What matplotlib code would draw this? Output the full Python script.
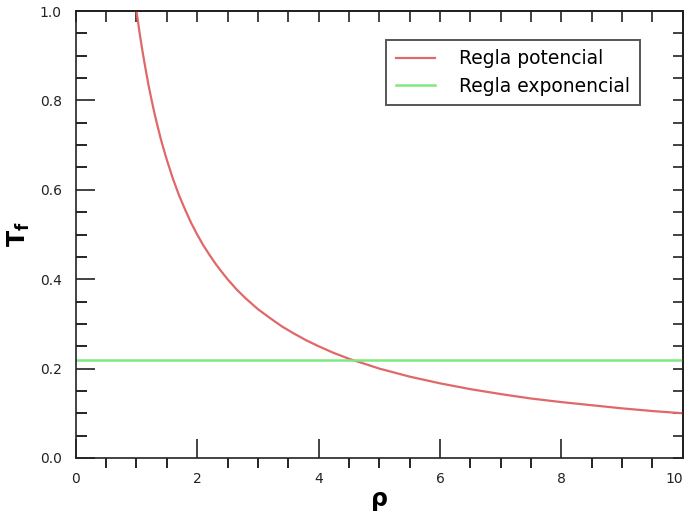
import matplotlib
matplotlib.use('Agg')
import matplotlib.pyplot as plt
from matplotlib.ticker import MultipleLocator

# values
rho = [1.0, 1.05, 1.1, 1.15, 1.2, 1.25, 1.3, 1.35, 1.4, 1.45, 1.5, 1.6, 1.7, 1.8, 1.9,
       2.0, 2.1, 2.2, 2.3, 2.4, 2.5, 2.65, 2.8, 3.0, 3.2, 3.4, 3.6, 3.8, 4.0, 4.25,
       4.5, 4.75, 5.0, 5.5, 6.0, 6.5, 7.0, 7.5, 8.0, 8.5, 9.0, 9.5, 10.0]
t_pot = [1.0, 0.952, 0.909, 0.870, 0.833, 0.800, 0.769, 0.741, 0.714, 0.690, 0.667,
         0.625, 0.588, 0.556, 0.526, 0.500, 0.476, 0.455, 0.435, 0.417, 0.400, 0.377,
         0.357, 0.333, 0.313, 0.294, 0.278, 0.263, 0.250, 0.235, 0.222, 0.211, 0.200,
         0.182, 0.167, 0.154, 0.143, 0.133, 0.125, 0.118, 0.111, 0.105, 0.100]
rho_exp = [0, 10]
t_exp = [0.22, 0.22]

fig = plt.figure(figsize=(6.89, 5.27), dpi=100)
ax = fig.add_axes([0.110, 0.131, 0.881, 0.848])

ax.plot(rho, t_pot, color='#e06868', lw=1.6, label='Regla potencial')
ax.plot(rho_exp, t_exp, color='#80e880', lw=1.8, label='Regla exponencial')

ax.set_xlim(0, 10)
ax.set_ylim(0, 1)
ax.xaxis.set_major_locator(MultipleLocator(2))
ax.xaxis.set_minor_locator(MultipleLocator(0.5))
ax.yaxis.set_major_locator(MultipleLocator(0.2))
ax.yaxis.set_minor_locator(MultipleLocator(0.05))
ax.xaxis.set_major_formatter(plt.FuncFormatter(lambda v, p: '%d' % v))
ax.yaxis.set_major_formatter(plt.FuncFormatter(lambda v, p: '%.1f' % v))

ax.tick_params(axis='x', which='major', direction='in', length=14, width=1.2,
               top=False, labelsize=10, pad=10, colors='#222222')
ax.tick_params(axis='x', which='minor', direction='out', length=7, width=1.2, top=False)
ax.tick_params(axis='y', which='major', direction='in', length=14, width=1.2,
               right=False, labelsize=10, pad=10, colors='#222222')
ax.tick_params(axis='y', which='minor', direction='in', length=8, width=1.2, right=False)
for lbl in ax.get_xticklabels():
    if lbl.get_text() == '10':
        lbl.set_ha('right')

# top and right axes: short inward ticks only
top = ax.secondary_xaxis('top')
top.xaxis.set_major_locator(MultipleLocator(0.5))
top.tick_params(direction='in', length=8, width=1.2, labeltop=False, colors='#222222')
top.spines['top'].set_linewidth(1.2)
right = ax.secondary_yaxis('right')
right.yaxis.set_major_locator(MultipleLocator(0.05))
right.tick_params(direction='in', length=7, width=1.2, labelright=False, colors='#222222')
right.spines['right'].set_linewidth(1.2)

for s in ax.spines.values():
    s.set_linewidth(1.2)
    s.set_color('#222222')

ax.set_xlabel(r'$\mathbf{\rho}$', fontsize=17, labelpad=2)
ax.set_ylabel(r'$\mathbf{T_f}$', fontsize=17, labelpad=6)

leg = ax.legend(loc='upper right', bbox_to_anchor=(0.929, 0.935), fontsize=13.5,
                fancybox=False, framealpha=1, edgecolor='#555555',
                handlelength=2.1, handletextpad=1.3, borderpad=0.5, labelspacing=0.45,
                borderaxespad=0)
leg.get_frame().set_linewidth(1.4)

fig.savefig('out.png', dpi=100)
